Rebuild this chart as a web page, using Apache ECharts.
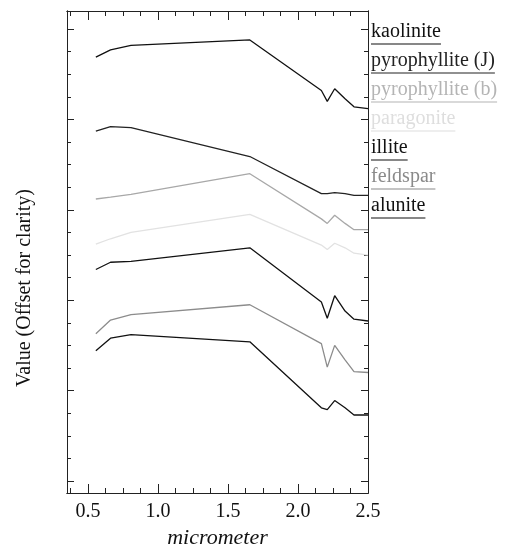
<!DOCTYPE html>
<html>
<head>
<meta charset="utf-8">
<script src="https://cdn.jsdelivr.net/npm/echarts@6/dist/echarts.min.js"></script>
<style>
  html, body { margin: 0; padding: 0; background: #fff; }
  #main { width: 507px; height: 544px; }
</style>
</head>
<body>
<div id="main"></div>
<script>
// band centres (micrometer)
var bands = [0.556, 0.661, 0.807, 1.656, 2.167, 2.209, 2.262, 2.336, 2.4, 2.5];

var names = ['kaolinite', 'pyrophyllite (J)', 'pyrophyllite (b)', 'paragonite', 'illite', 'feldspar', 'alunite'];
var lineColors = ['#111111', '#222222', '#a8a8a8', '#e2e2e2', '#111111', '#8c8c8c', '#111111'];
var textColors = ['#111111', '#222222', '#b4b4b4', '#dedede', '#111111', '#8a8a8a', '#111111'];

// offset values for each mineral
var kaolinite     = [4.69, 4.77, 4.82, 4.88, 4.32, 4.20, 4.34, 4.23, 4.14, 4.12];
var pyrophylliteJ = [3.87, 3.92, 3.91, 3.59, 3.18, 3.18, 3.19, 3.18, 3.16, 3.16];
var pyrophylliteB = [3.12, 3.14, 3.17, 3.40, 2.90, 2.85, 2.94, 2.85, 2.78, 2.78];
var paragonite    = [2.62, 2.68, 2.75, 2.95, 2.61, 2.56, 2.63, 2.58, 2.52, 2.50];
var illite        = [2.34, 2.42, 2.43, 2.58, 1.98, 1.80, 2.05, 1.88, 1.79, 1.77];
var feldspar      = [1.63, 1.78, 1.84, 1.95, 1.52, 1.26, 1.50, 1.34, 1.21, 1.20];
var alunite       = [1.44, 1.58, 1.62, 1.54, 0.81, 0.79, 0.89, 0.81, 0.73, 0.73];
var seriesValues = [kaolinite, pyrophylliteJ, pyrophylliteB, paragonite, illite, feldspar, alunite];

// ticks
var xMajor = [0.5, 1.0, 1.5, 2.0, 2.5];
var xMinor = [0.375, 0.625, 0.75, 0.875, 1.125, 1.25, 1.375, 1.625, 1.75, 1.875, 2.125, 2.25, 2.375];
var yMajor = [0, 1, 2, 3, 4, 5];
var yMinor = [0.25, 0.5, 0.75, 1.25, 1.5, 1.75, 2.25, 2.5, 2.75, 3.25, 3.5, 3.75, 4.25, 4.5, 4.75];

var serif = '"Liberation Serif", "DejaVu Serif", serif';
var chart = echarts.init(document.getElementById('main'));

function xAx(pos, ticks, len, labels) {
  return {
    type: 'value', position: pos, min: 0.35, max: 2.5,
    axisLine: { show: true, onZero: false, lineStyle: { color: '#222', width: 1 } },
    axisTick: { show: true, inside: true, length: len, customValues: ticks, lineStyle: { color: '#222' } },
    axisLabel: labels ? {
      show: true, customValues: xMajor, margin: 9,
      fontFamily: serif, fontSize: 20, color: '#111',
      formatter: function (v) { return v.toFixed(1); }
    } : { show: false },
    splitLine: { show: false }
  };
}
function yAx(pos, ticks, len) {
  return {
    type: 'value', position: pos, min: -0.133, max: 5.2,
    axisLine: { show: true, onZero: false, lineStyle: { color: '#222', width: 1 } },
    axisTick: { show: true, inside: true, length: len, customValues: ticks, lineStyle: { color: '#222' } },
    axisLabel: { show: false },
    splitLine: { show: false }
  };
}

var xAxes = [xAx('bottom', xMajor, 9, true), xAx('bottom', xMinor, 5), xAx('top', xMajor, 9), xAx('top', xMinor, 5)];
xAxes[0].name = 'micrometer';
xAxes[0].nameLocation = 'middle';
xAxes[0].nameGap = 25;
xAxes[0].nameTextStyle = { fontFamily: serif, fontSize: 22, fontStyle: 'italic', color: '#111' };

var yAxes = [yAx('left', yMajor, 7), yAx('left', yMinor, 4), yAx('right', yMajor, 7), yAx('right', yMinor, 4)];
yAxes[0].name = 'Value (Offset for clarity)';
yAxes[0].nameLocation = 'middle';
yAxes[0].nameGap = 32;
yAxes[0].nameTextStyle = { fontFamily: serif, fontSize: 20, color: '#111', padding: [0, 72, 0, 0] };

var rich = {};
names.forEach(function (n, i) {
  rich['t' + i] = { fontFamily: serif, fontSize: 20, color: textColors[i], lineHeight: 21 };
  rich['u' + i] = { width: '100%', height: 1.2, lineHeight: 3, backgroundColor: textColors[i] };
});

var series = names.map(function (n, i) {
  return {
    name: n, type: 'line', symbol: 'none', silent: true,
    xAxisIndex: 0, yAxisIndex: 0,
    lineStyle: { color: lineColors[i], width: 1.3 },
    itemStyle: { color: lineColors[i] },
    data: bands.map(function (x, j) { return [x, seriesValues[i][j]]; })
  };
});

chart.setOption({
  animation: false,
  backgroundColor: '#fff',
  grid: { left: 67, right: 139, top: 11, bottom: 51, containLabel: false, outerBoundsMode: 'none' },
  legend: {
    orient: 'vertical', left: 361, top: 17, icon: 'none',
    itemWidth: 0, itemHeight: 14, itemGap: 1, selectedMode: false,
    data: names,
    formatter: function (n) { var i = names.indexOf(n); return '{t' + i + '|' + n + '}\n{u' + i + '|}'; },
    textStyle: { rich: rich }
  },
  xAxis: xAxes,
  yAxis: yAxes,
  series: series
});
</script>
</body>
</html>
